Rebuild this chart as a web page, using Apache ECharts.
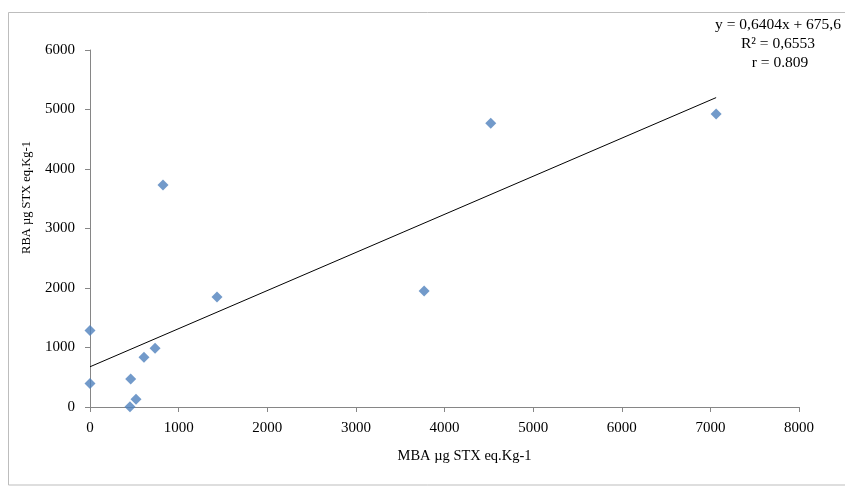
<!DOCTYPE html>
<html>
<head>
<meta charset="utf-8">
<script src="https://cdn.jsdelivr.net/npm/echarts@6/dist/echarts.min.js"></script>
<style>html,body{margin:0;padding:0;background:#fff}#c{width:845px;height:487px}</style>
</head>
<body>
<div id="c"></div>
<script>
// Data
const mbaValues = [0, 0, 459, 451, 519, 609, 734, 824, 1433, 3770, 4522, 7065];
const rbaValues = [1285, 395, 470, 5, 130, 835, 986, 3731, 1849, 1950, 4768, 4924];
const trendX = [0, 7065];
const trendY = [676, 5200];
const xTicks = [0, 1000, 2000, 3000, 4000, 5000, 6000, 7000, 8000];
const yTicks = [0, 1000, 2000, 3000, 4000, 5000, 6000];
const xTitle = 'MBA µg STX eq.Kg-1';
const yTitle = 'RBA µg STX eq.Kg-1';
const eqLines = ['y = 0,6404x + 675,6', 'R² = 0,6553', 'r = 0.809'];

const font = '"Liberation Serif", "Times New Roman", serif';
const axisColor = '#868686';
const chart = echarts.init(document.getElementById('c'));
chart.setOption({
  animation: false,
  backgroundColor: '#fff',
  grid: {left: 90, right: 46, top: 50, bottom: 80},
  xAxis: {
    type: 'value', min: xTicks[0], max: xTicks[xTicks.length - 1], interval: 1000,
    splitLine: {show: false},
    axisLine: {lineStyle: {color: axisColor}},
    axisTick: {show: true, length: 5, lineStyle: {color: axisColor}},
    axisLabel: {color: '#000', fontFamily: font, fontSize: 15, margin: 14, formatter: v => String(v)},
    name: xTitle, nameLocation: 'middle', nameGap: 42,
    nameTextStyle: {color: '#000', fontFamily: font, fontSize: 14.5, padding: [0, 0, 0, 40]}
  },
  yAxis: {
    type: 'value', min: yTicks[0], max: yTicks[yTicks.length - 1], interval: 1000,
    splitLine: {show: false},
    axisLine: {show: true, lineStyle: {color: axisColor}},
    axisTick: {show: true, length: 5, lineStyle: {color: axisColor}},
    axisLabel: {color: '#000', fontFamily: font, fontSize: 15, margin: 15, formatter: v => String(v)},
    name: yTitle, nameLocation: 'middle', nameGap: 57,
    nameTextStyle: {color: '#000', fontFamily: font, fontSize: 12.5, padding: [0, 0, 0, 62]}
  },
  graphic: [
    {type: 'rect', silent: true, z: -1, shape: {x: 8.5, y: 12.5, width: 900, height: 472.5},
     style: {fill: 'none', stroke: '#bdbdbd', lineWidth: 1}},
    ...eqLines.map((t, i) => ({
      type: 'text', x: i === 2 ? 780 : 778, y: [25, 44, 63][i],
      style: {text: t, font: '15.5px ' + font, fill: '#000', textAlign: 'center', textVerticalAlign: 'middle'}
    }))
  ],
  series: [
    {
      type: 'line', data: trendX.map((x, i) => [x, trendY[i]]), showSymbol: false, symbol: 'none',
      lineStyle: {color: '#000', width: 1}, z: 1, silent: true
    },
    {
      type: 'scatter', data: mbaValues.map((x, i) => [x, rbaValues[i]]),
      symbol: 'diamond', symbolSize: 11, itemStyle: {color: '#4f81bd'}, z: 3
    }
  ]
});
</script>
</body>
</html>
